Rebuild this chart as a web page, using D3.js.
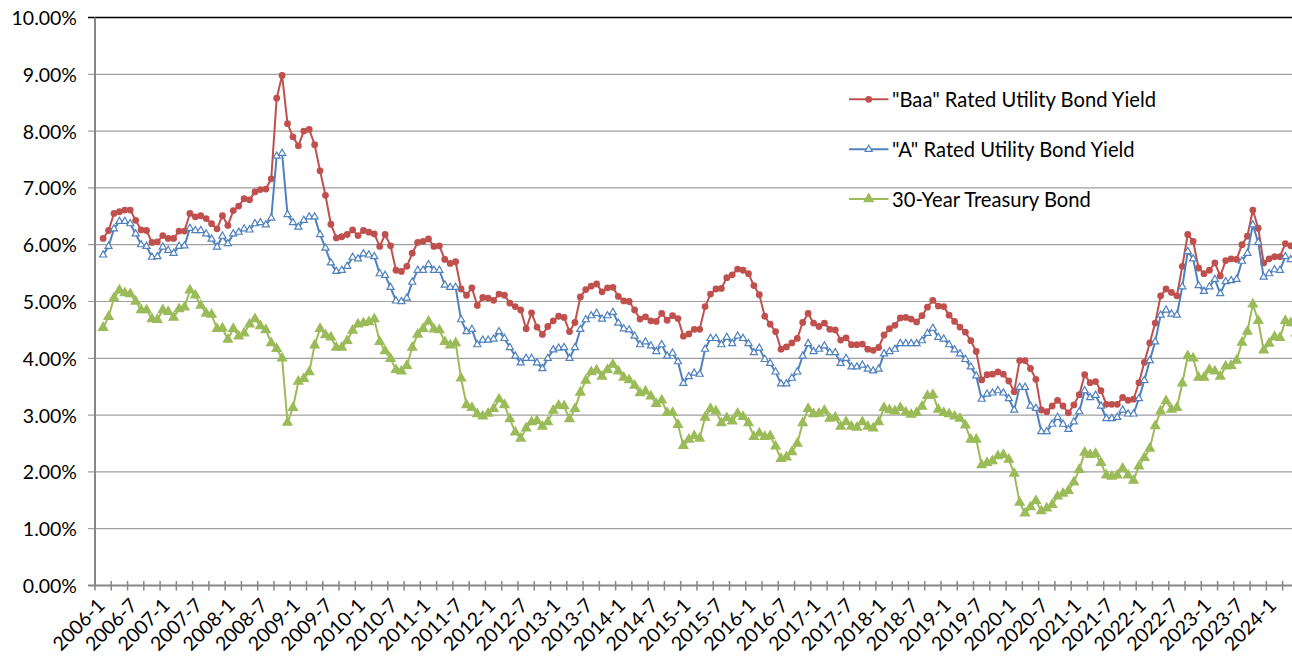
<!DOCTYPE html>
<html><head><meta charset="utf-8">
<script src="https://cdn.jsdelivr.net/npm/d3@7"></script>
<style>
html,body{margin:0;padding:0;background:#fff;overflow:hidden;}
svg text{font-family:Lato,"Open Sans",sans-serif;fill:#000;}
</style></head><body>
<svg id="chart" width="1292" height="658"></svg>
<script>
// ---------- DATA ----------
// Monthly categories 2006-1 ... 2024-6
const categoryYears = [2006,2007,2008,2009,2010,2011,2012,2013,2014,2015,2016,2017,2018,2019,2020,2021,2022,2023,2024];
const lastMonthOfLastYear = 6;
const categories = [];
categoryYears.forEach(y => {
  const n = (y === 2024) ? lastMonthOfLastYear : 12;
  for (let m = 1; m <= n; m++) categories.push(y + "-" + m);
});
// tick labels shown every 6 months
const labelMonths = ["1", "7"];
const yTicks = [0,1,2,3,4,5,6,7,8,9,10];   // percent

const seriesNames = ['"Baa" Rated Utility Bond Yield', '"A" Rated Utility Bond Yield', '30-Year Treasury Bond'];

const baaYield = [
  null,6.11,6.25,6.55,6.58,6.61,6.61,6.43,6.26,6.25,6.04,6.05,
  6.16,6.11,6.11,6.24,6.24,6.55,6.49,6.51,6.46,6.37,6.28,6.51,
  6.34,6.60,6.68,6.81,6.79,6.93,6.97,6.98,7.16,8.58,8.98,8.13,
  7.90,7.74,8.00,8.03,7.76,7.30,6.87,6.36,6.12,6.14,6.18,6.26,
  6.16,6.25,6.22,6.19,5.97,6.18,5.98,5.55,5.53,5.62,5.85,6.04,
  6.06,6.10,5.97,5.98,5.74,5.67,5.70,5.22,5.11,5.24,4.93,5.07,
  5.06,5.02,5.13,5.11,4.97,4.91,4.85,4.52,4.80,4.55,4.42,4.56,
  4.66,4.74,4.72,4.47,4.63,5.08,5.21,5.27,5.31,5.17,5.24,5.25,
  5.09,5.01,5.00,4.85,4.69,4.73,4.66,4.65,4.79,4.67,4.75,4.70,
  4.39,4.43,4.51,4.51,4.91,5.13,5.22,5.23,5.42,5.47,5.57,5.55,
  5.49,5.28,5.12,4.74,4.60,4.47,4.16,4.20,4.27,4.35,4.63,4.79,
  4.62,4.56,4.62,4.51,4.50,4.32,4.36,4.24,4.24,4.25,4.16,4.14,
  4.19,4.41,4.52,4.58,4.71,4.72,4.69,4.64,4.75,4.90,5.02,4.92,
  4.91,4.76,4.65,4.55,4.46,4.31,4.12,3.62,3.71,3.72,3.76,3.72,
  3.60,3.41,3.96,3.96,3.82,3.63,3.09,3.06,3.16,3.26,3.16,3.04,
  3.18,3.36,3.71,3.57,3.59,3.43,3.19,3.19,3.19,3.31,3.26,3.28,
  3.57,3.93,4.27,4.62,5.10,5.22,5.16,5.10,5.62,6.18,6.06,5.59,
  5.49,5.55,5.68,5.45,5.72,5.75,5.74,6.00,6.15,6.61,6.29,5.68,
  5.75,5.79,5.79,6.02,5.98,5.96
];

const aYield = [
  null,5.82,5.97,6.28,6.41,6.41,6.37,6.19,6.00,5.97,5.78,5.79,
  5.96,5.90,5.85,5.97,5.98,6.29,6.25,6.25,6.19,6.10,5.96,6.15,
  6.02,6.19,6.22,6.28,6.26,6.37,6.39,6.35,6.47,7.56,7.61,6.53,
  6.39,6.31,6.43,6.49,6.49,6.18,5.94,5.68,5.53,5.55,5.62,5.78,
  5.75,5.84,5.82,5.79,5.49,5.46,5.25,5.01,5.00,5.06,5.34,5.55,
  5.55,5.65,5.55,5.55,5.29,5.25,5.25,4.68,4.47,4.51,4.24,4.32,
  4.32,4.34,4.47,4.35,4.19,4.04,3.92,4.00,4.00,3.92,3.82,4.00,
  4.15,4.18,4.19,4.00,4.19,4.51,4.68,4.75,4.79,4.69,4.75,4.81,
  4.62,4.52,4.50,4.39,4.24,4.29,4.22,4.12,4.24,4.04,4.09,3.94,
  3.56,3.68,3.74,3.72,4.16,4.35,4.35,4.24,4.37,4.26,4.39,4.35,
  4.26,4.10,4.18,3.98,3.91,3.76,3.55,3.55,3.65,3.76,4.04,4.26,
  4.12,4.16,4.22,4.10,4.10,3.91,4.00,3.85,3.85,3.88,3.81,3.78,
  3.81,4.08,4.12,4.16,4.26,4.26,4.26,4.26,4.31,4.44,4.53,4.37,
  4.34,4.24,4.15,4.08,3.98,3.85,3.69,3.28,3.37,3.39,3.43,3.39,
  3.29,3.09,3.49,3.49,3.16,3.12,2.71,2.71,2.84,2.96,2.84,2.75,
  2.88,3.06,3.43,3.31,3.35,3.16,2.94,2.94,2.96,3.09,3.02,3.02,
  3.29,3.61,3.96,4.29,4.76,4.85,4.78,4.76,5.26,5.88,5.75,5.28,
  5.18,5.26,5.39,5.14,5.35,5.37,5.39,5.71,5.85,6.35,6.04,5.43,
  5.49,5.56,5.55,5.79,5.74,5.72
];

const treasury30 = [
  null,4.54,4.73,5.06,5.20,5.15,5.13,5.00,4.85,4.85,4.69,4.68,
  4.85,4.82,4.72,4.87,4.90,5.20,5.11,4.93,4.79,4.77,4.52,4.53,
  4.33,4.52,4.39,4.44,4.60,4.69,4.57,4.50,4.27,4.17,4.00,2.87,
  3.13,3.59,3.64,3.76,4.23,4.52,4.41,4.37,4.19,4.19,4.31,4.49,
  4.60,4.62,4.64,4.69,4.29,4.13,3.99,3.80,3.77,3.87,4.19,4.42,
  4.52,4.65,4.51,4.50,4.29,4.23,4.27,3.65,3.18,3.13,3.02,2.98,
  3.03,3.11,3.28,3.18,2.93,2.70,2.59,2.77,2.88,2.90,2.80,2.88,
  3.08,3.17,3.16,2.93,3.11,3.40,3.61,3.76,3.79,3.68,3.80,3.89,
  3.77,3.66,3.62,3.52,3.39,3.42,3.33,3.20,3.26,3.04,3.04,2.83,
  2.46,2.57,2.63,2.59,2.96,3.11,3.07,2.86,2.95,2.89,3.03,2.97,
  2.86,2.62,2.68,2.62,2.63,2.45,2.23,2.26,2.35,2.50,2.86,3.11,
  3.02,3.03,3.08,2.94,2.96,2.80,2.88,2.80,2.78,2.88,2.80,2.77,
  2.88,3.13,3.09,3.07,3.13,3.05,3.01,3.04,3.15,3.34,3.36,3.10,
  3.04,3.02,2.98,2.94,2.82,2.57,2.57,2.12,2.16,2.19,2.28,2.30,
  2.22,1.97,1.46,1.27,1.38,1.49,1.31,1.36,1.42,1.57,1.62,1.67,
  1.82,2.04,2.34,2.30,2.32,2.16,1.94,1.92,1.94,2.06,1.94,1.85,
  2.10,2.25,2.41,2.81,3.07,3.25,3.10,3.13,3.56,4.04,4.00,3.66,
  3.66,3.80,3.77,3.68,3.86,3.87,3.96,4.28,4.47,4.95,4.66,4.14,
  4.26,4.38,4.36,4.66,4.62,4.44
];

// ---------- LAYOUT / STYLE ----------
const W = 1292, H = 658;
const plotLeft = 95, plotTop = 17.5, plotBottom = 585.5;
const monthStep = 5.423;
const colors = {baa: "#C0504D", a: "#4F81BD", t: "#9BBB59"};

const svg = d3.select("#chart");

const x = d3.scaleBand()
  .domain(categories)
  .range([plotLeft, plotLeft + categories.length * monthStep])
  .padding(0);
const cx = c => x(c) + x.bandwidth() / 2;

const y = d3.scaleLinear().domain([0, 10]).range([plotBottom, plotTop]);

// gridlines + y ticks (tick marks drawn outside the axis)
const gAxisY = svg.append("g");
gAxisY.selectAll("line.grid")
  .data(yTicks.filter(t => t > 0))
  .join("line")
  .attr("x1", plotLeft - 7).attr("x2", W)
  .attr("y1", d => y(d)).attr("y2", d => y(d))
  .attr("stroke", d => d === 10 ? "#000" : "#9F9F9F")
  .attr("stroke-width", d => d === 10 ? 1.4 : 1.2);

gAxisY.selectAll("text")
  .data(yTicks)
  .join("text")
  .attr("x", 77).attr("y", d => y(d))
  .attr("text-anchor", "end")
  .attr("dominant-baseline", "central")
  .style("font-size", "19.5px")
  .text(d => d3.format(".2f")(d) + "%");

// y axis line
svg.append("line")
  .attr("x1", plotLeft).attr("x2", plotLeft)
  .attr("y1", plotTop).attr("y2", plotBottom)
  .attr("stroke", "#868686").attr("stroke-width", 2);

// x axis line
svg.append("line")
  .attr("x1", plotLeft - 7).attr("x2", W)
  .attr("y1", plotBottom).attr("y2", plotBottom)
  .attr("stroke", "#868686").attr("stroke-width", 2);

// x tick marks every 3 categories (category boundaries), crossing the axis
const tickCats = categories.filter((c, i) => i % 3 === 0);
svg.append("g").selectAll("line")
  .data(tickCats)
  .join("line")
  .attr("x1", d => x(d)).attr("x2", d => x(d))
  .attr("y1", plotBottom - 4.5).attr("y2", plotBottom + 5)
  .attr("stroke", "#868686").attr("stroke-width", 1.5);

// x labels every 6 months, rotated -45
const labelCats = categories.filter(c => labelMonths.includes(c.split("-")[1]));
svg.append("g").selectAll("text")
  .data(labelCats)
  .join("text")
  .attr("transform", d => `translate(${cx(d) + 3},${plotBottom + 16}) rotate(-45)`)
  .attr("text-anchor", "end")
  .attr("dominant-baseline", "central")
  .style("font-size", "19.5px")
  .text(d => d);

// ---------- SERIES ----------
const series = [
  {name: seriesNames[0], values: baaYield, color: colors.baa, marker: "circle"},
  {name: seriesNames[1], values: aYield, color: colors.a, marker: "hollowTri"},
  {name: seriesNames[2], values: treasury30, color: colors.t, marker: "tri"}
];

const line = d3.line()
  .defined(d => d.v != null)
  .x(d => cx(d.c))
  .y(d => y(d.v));

const triSmall = d3.symbol().type(d3.symbolTriangle).size(22);
const triBig = d3.symbol().type(d3.symbolTriangle).size(55);

function drawMarker(sel, s) {
  if (s.marker === "circle") {
    sel.append("circle").attr("r", 3.4).attr("fill", s.color);
  } else if (s.marker === "hollowTri") {
    sel.append("path").attr("d", triSmall()).attr("fill", "#fff")
      .attr("stroke", s.color).attr("stroke-width", 1.2);
  } else {
    sel.append("path").attr("d", triBig()).attr("fill", s.color);
  }
}

series.forEach(s => {
  const pts = categories.map((c, i) => ({c, v: s.values[i]}));
  const g = svg.append("g");
  g.append("path")
    .datum(pts)
    .attr("fill", "none")
    .attr("stroke", s.color)
    .attr("stroke-width", 2)
    .attr("stroke-linejoin", "round")
    .attr("d", line);
  g.selectAll("g.m")
    .data(pts.filter(p => p.v != null))
    .join("g")
    .attr("class", "m")
    .attr("transform", p => `translate(${cx(p.c)},${y(p.v)})`)
    .each(function () { drawMarker(d3.select(this), s); });
});

// ---------- LEGEND ----------
const legendY = [99.3, 149.3, 199];
const leg = svg.append("g");
series.forEach((s, i) => {
  const gy = legendY[i];
  leg.append("line")
    .attr("x1", 849).attr("x2", 888.5)
    .attr("y1", gy).attr("y2", gy)
    .attr("stroke", s.color).attr("stroke-width", 2);
  const m = leg.append("g").attr("transform", `translate(868.7,${gy})`);
  drawMarker(m, s);
  leg.append("text")
    .attr("x", 892).attr("y", gy)
    .attr("dominant-baseline", "central")
    .style("font-size", "20.2px")
    .text(s.name);
});
</script>
</body></html>
